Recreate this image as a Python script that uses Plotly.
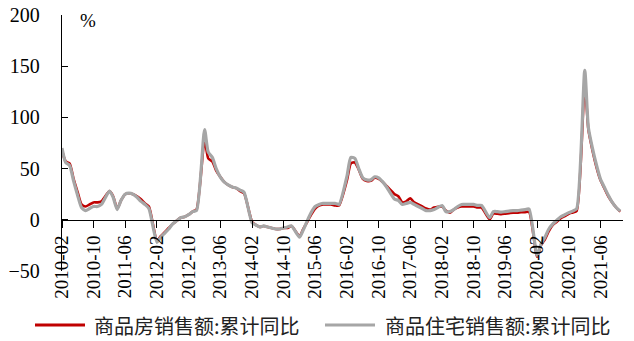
import plotly.graph_objects as go

# Monthly cumulative data (Jan is not published; Jan-Feb combined as Feb)
years = list(range(2010, 2022))
dates = [f"{y}-{m:02d}-01" for y in years for m in range(2, 13)][:-1]  # 2010-02 .. 2021-11

# 商品房销售额:累计同比 (%)
red_vals = (
    [68, 57, 55, 40, 27, 15, 13, 15, 17, 17, 18] +          # 2010
    [28, 23, 11, 19, 25, 26, 25, 23, 20, 16, 13] +          # 2011
    [-20, -16, -12, -8, -4, -1, 2, 3, 5, 8, 10] +           # 2012
    [78, 60, 57, 48, 42, 37, 34, 32, 31, 28, 26] +          # 2013
    [-2, -5, -7, -6, -7, -8, -9, -9, -8, -8, -6] +          # 2014
    [-16, -9, -2, 5, 11, 14, 15, 15, 15, 14, 14] +          # 2015
    [39, 55, 56, 49, 40, 38, 38, 41, 40, 37, 33] +          # 2016
    [25, 23, 17, 18, 21, 17, 15, 13, 11, 10, 12] +          # 2017
    [13, 9, 7, 10, 12, 13, 13, 13, 13, 12, 12] +            # 2018
    [0.5, 6, 6, 5.5, 6, 6.5, 7, 7, 7.5, 7.5, 7.5] +         # 2019
    [-36, -25, -19, -11, -5, -2, 1.5, 3.5, 5.8, 7.2, 8.7] + # 2020
    [133, 88, 68, 52, 39, 31, 23, 17, 12, 8]                # 2021
)

# 商品住宅销售额:累计同比 (%)
gray_vals = (
    [70, 56, 53, 38, 24, 12, 9, 11, 13, 13, 15] +           # 2010
    [28, 22, 10, 19, 25, 26, 25, 22, 18, 15, 11] +          # 2011
    [-22, -17, -13, -9, -4, -1, 2, 3, 5, 8, 9] +            # 2012
    [88, 66, 61, 50, 42, 37, 34, 32, 31, 29, 27] +          # 2013
    [-3, -5, -7, -6, -7, -8, -9, -9, -8, -7, -6] +          # 2014
    [-17, -10, -1, 7, 13, 15, 16, 16, 16, 16, 15] +         # 2015
    [43, 61, 60, 50, 41, 39, 39, 42, 41, 37, 32] +          # 2016
    [20, 19, 15, 16, 17, 15, 13, 11, 9, 9, 10] +            # 2017
    [14, 8, 8, 10, 13, 15, 15, 15, 15, 14, 14] +            # 2018
    [2, 8, 8, 7.5, 8, 8.5, 9, 9, 9.5, 10, 10.5] +           # 2019
    [-35, -24, -17, -9, -4, -0.5, 3, 5, 7, 8.5, 10.8] +     # 2020
    [146, 90, 70, 54, 40, 32, 24, 17, 12, 8.5]              # 2021
)

names = ["商品房销售额:累计同比", "商品住宅销售额:累计同比"]
colors = ["#C00000", "#A6A6A6"]
yticks = [-50, 0, 50, 100, 150, 200]

W, H = 634, 341
ML, MR, MT, MB = 62, 11, 15, 70
PW, PH = W - ML - MR, H - MT - MB

def px2paper_x(px):
    return (px - ML) / PW

def px2paper_y(py):
    return (H - MB - py) / PH

fig = go.Figure()
fig.add_trace(go.Scatter(x=dates, y=red_vals, mode="lines", name=names[0],
                         line=dict(color=colors[0], width=2.6, shape="spline", smoothing=0.6),
                         showlegend=False))
fig.add_trace(go.Scatter(x=dates, y=gray_vals, mode="lines", name=names[1],
                         line=dict(color=colors[1], width=3.2, shape="spline", smoothing=0.6),
                         showlegend=False))

serif = "Liberation Serif, Times New Roman, serif"
cjk = "Noto Sans CJK SC, sans-serif"

# manual legend
leg_y = px2paper_y(325)
for (x0, x1, xt), nm, col, wd in [((35, 85, 92), names[0], colors[0], 3),
                                  ((325, 375, 383), names[1], colors[1], 3.2)]:
    fig.add_shape(type="line", xref="paper", yref="paper",
                  x0=px2paper_x(x0), x1=px2paper_x(x1), y0=leg_y, y1=leg_y,
                  line=dict(color=col, width=wd))
    fig.add_annotation(xref="paper", yref="paper", x=px2paper_x(xt), y=leg_y,
                       text=nm, showarrow=False, xanchor="left", yanchor="middle",
                       font=dict(family=cjk, size=20, color="#222"))

fig.add_annotation(xref="paper", yref="paper", x=px2paper_x(88), y=px2paper_y(20),
                   text="%", showarrow=False, xanchor="center", yanchor="middle",
                   font=dict(family=serif, size=19, color="black"))

fig.update_layout(
    width=W, height=H,
    margin=dict(l=ML, r=MR, t=MT, b=MB, autoexpand=False),
    paper_bgcolor="white", plot_bgcolor="white",
    xaxis=dict(
        type="date", range=["2010-02-01", "2021-11-22"],
        anchor="free", position=(0 - yticks[0]) / (yticks[-1] - yticks[0]),
        tick0="2010-02-01", dtick="M8", tickformat="%Y-%m",
        tickangle=-90, ticks="outside", ticklen=7, tickwidth=1.3, tickcolor="black",
        showline=True, linecolor="black", linewidth=1.3,
        showgrid=False, zeroline=False, automargin=False,
        tickfont=dict(family=serif, size=19, color="black"),
    ),
    yaxis=dict(
        range=[yticks[0], yticks[-1]], tickvals=yticks,
        ticks="inside", ticklen=6, tickwidth=1.3, tickcolor="black",
        showline=True, linecolor="black", linewidth=1.3,
        showgrid=False, zeroline=False, ticklabelstandoff=17, automargin=False,
        tickfont=dict(family=serif, size=20, color="black"),
    ),
)

fig.write_html("out.html")
